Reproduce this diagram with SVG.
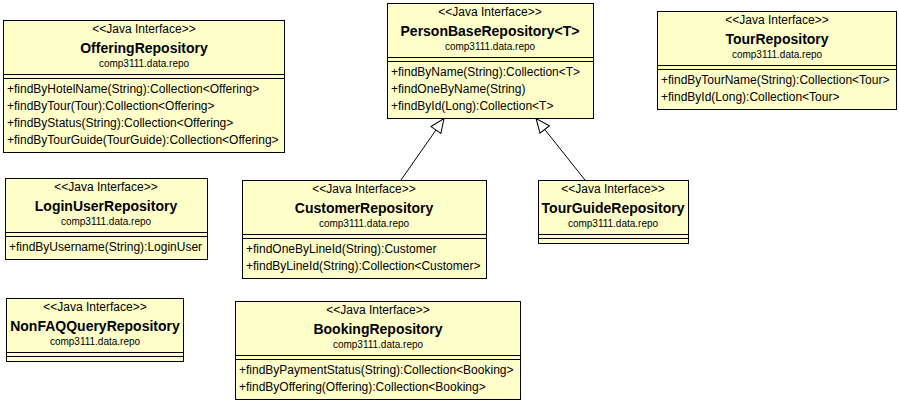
<svg xmlns="http://www.w3.org/2000/svg" width="899" height="403" viewBox="0 0 899 403">
<style>
.box{fill:#ffffca;stroke:#000;stroke-width:1}
.div{stroke:#000;stroke-width:1}
.st{font-family:"Liberation Sans",Arial,sans-serif;font-size:12px;text-anchor:middle;fill:#000}
.nm{font-family:"Liberation Sans",Arial,sans-serif;font-size:14px;font-weight:bold;text-anchor:middle;fill:#000}
.pk{font-family:"Liberation Sans",Arial,sans-serif;font-size:10px;text-anchor:middle;fill:#000}
.m{font-family:"Liberation Sans",Arial,sans-serif;font-size:12px;fill:#000}
.edge{stroke:#000;stroke-width:1;fill:none}
</style>
<defs>
<marker id="gen" viewBox="0 0 16 14" refX="15" refY="7" markerWidth="16" markerHeight="14" markerUnits="userSpaceOnUse" orient="auto">
<path d="M1,1 L15,7 L1,13 Z" fill="#fff" stroke="#000" stroke-width="1"/>
</marker>
</defs>
<rect width="899" height="403" fill="#fff"/>
<g id="connectors">
<line class="edge" x1="401" y1="180" x2="444" y2="118.5" marker-end="url(#gen)"/>
<line class="edge" x1="585" y1="180" x2="536" y2="118.5" marker-end="url(#gen)"/>
</g>
<g id="OfferingRepository">
<rect class="box" x="3.5" y="20.5" width="281" height="132"/>
<line class="div" x1="3.5" y1="74.5" x2="284.5" y2="74.5"/>
<line class="div" x1="3.5" y1="78.5" x2="284.5" y2="78.5"/>
<text class="st" x="144" y="33">&lt;&lt;Java Interface&gt;&gt;</text>
<text class="nm" x="144" y="53">OfferingRepository</text>
<text class="pk" x="144" y="67">comp3111.data.repo</text>
<text class="m" x="7" y="93">+findByHotelName(String):Collection&lt;Offering&gt;</text>
<text class="m" x="7" y="110">+findByTour(Tour):Collection&lt;Offering&gt;</text>
<text class="m" x="7" y="127">+findByStatus(String):Collection&lt;Offering&gt;</text>
<text class="m" x="7" y="144">+findByTourGuide(TourGuide):Collection&lt;Offering&gt;</text>
</g>
<g id="PersonBaseRepository">
<rect class="box" x="387.5" y="3.5" width="206" height="115"/>
<line class="div" x1="387.5" y1="57.5" x2="593.5" y2="57.5"/>
<line class="div" x1="387.5" y1="61.5" x2="593.5" y2="61.5"/>
<text class="st" x="490" y="16">&lt;&lt;Java Interface&gt;&gt;</text>
<text class="nm" x="490" y="36">PersonBaseRepository&lt;T&gt;</text>
<text class="pk" x="490" y="50">comp3111.data.repo</text>
<text class="m" x="391" y="76">+findByName(String):Collection&lt;T&gt;</text>
<text class="m" x="391" y="93">+findOneByName(String)</text>
<text class="m" x="391" y="110">+findById(Long):Collection&lt;T&gt;</text>
</g>
<g id="TourRepository">
<rect class="box" x="657.5" y="11.5" width="239" height="98"/>
<line class="div" x1="657.5" y1="65.5" x2="896.5" y2="65.5"/>
<line class="div" x1="657.5" y1="69.5" x2="896.5" y2="69.5"/>
<text class="st" x="777" y="24">&lt;&lt;Java Interface&gt;&gt;</text>
<text class="nm" x="777" y="44">TourRepository</text>
<text class="pk" x="777" y="58">comp3111.data.repo</text>
<text class="m" x="661" y="84">+findByTourName(String):Collection&lt;Tour&gt;</text>
<text class="m" x="661" y="101">+findById(Long):Collection&lt;Tour&gt;</text>
</g>
<g id="LoginUserRepository">
<rect class="box" x="5.5" y="178.5" width="202" height="81"/>
<line class="div" x1="5.5" y1="232.5" x2="207.5" y2="232.5"/>
<line class="div" x1="5.5" y1="236.5" x2="207.5" y2="236.5"/>
<text class="st" x="106" y="191">&lt;&lt;Java Interface&gt;&gt;</text>
<text class="nm" x="106" y="211">LoginUserRepository</text>
<text class="pk" x="106" y="225">comp3111.data.repo</text>
<text class="m" x="9" y="251">+findByUsername(String):LoginUser</text>
</g>
<g id="CustomerRepository">
<rect class="box" x="242.5" y="180.5" width="244" height="98"/>
<line class="div" x1="242.5" y1="234.5" x2="486.5" y2="234.5"/>
<line class="div" x1="242.5" y1="238.5" x2="486.5" y2="238.5"/>
<text class="st" x="364" y="193">&lt;&lt;Java Interface&gt;&gt;</text>
<text class="nm" x="364" y="213">CustomerRepository</text>
<text class="pk" x="364" y="227">comp3111.data.repo</text>
<text class="m" x="246" y="253">+findOneByLineId(String):Customer</text>
<text class="m" x="246" y="270">+findByLineId(String):Collection&lt;Customer&gt;</text>
</g>
<g id="TourGuideRepository">
<rect class="box" x="538.5" y="180.5" width="150" height="63"/>
<line class="div" x1="538.5" y1="234.5" x2="688.5" y2="234.5"/>
<line class="div" x1="538.5" y1="238.5" x2="688.5" y2="238.5"/>
<text class="st" x="613" y="193">&lt;&lt;Java Interface&gt;&gt;</text>
<text class="nm" x="613" y="213">TourGuideRepository</text>
<text class="pk" x="613" y="227">comp3111.data.repo</text>
</g>
<g id="NonFAQQueryRepository">
<rect class="box" x="6.5" y="298.5" width="177" height="63"/>
<line class="div" x1="6.5" y1="352.5" x2="183.5" y2="352.5"/>
<line class="div" x1="6.5" y1="356.5" x2="183.5" y2="356.5"/>
<text class="st" x="95" y="311">&lt;&lt;Java Interface&gt;&gt;</text>
<text class="nm" x="95" y="331">NonFAQQueryRepository</text>
<text class="pk" x="95" y="345">comp3111.data.repo</text>
</g>
<g id="BookingRepository">
<rect class="box" x="235.5" y="301.5" width="285" height="98"/>
<line class="div" x1="235.5" y1="355.5" x2="520.5" y2="355.5"/>
<line class="div" x1="235.5" y1="359.5" x2="520.5" y2="359.5"/>
<text class="st" x="378" y="314">&lt;&lt;Java Interface&gt;&gt;</text>
<text class="nm" x="378" y="334">BookingRepository</text>
<text class="pk" x="378" y="348">comp3111.data.repo</text>
<text class="m" x="239" y="374">+findByPaymentStatus(String):Collection&lt;Booking&gt;</text>
<text class="m" x="239" y="391">+findByOffering(Offering):Collection&lt;Booking&gt;</text>
</g>
</svg>
